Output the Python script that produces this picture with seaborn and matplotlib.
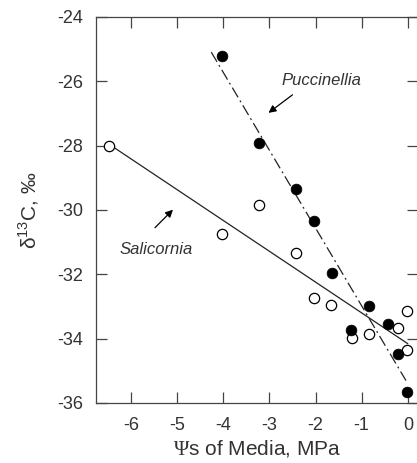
import numpy as np
import pandas as pd
import matplotlib
matplotlib.use("Agg")
import matplotlib.pyplot as plt
import seaborn as sns

# Salicornia (open circles)
sal_psi = [-6.47, -4.02, -3.22, -2.42, -2.04, -1.66, -1.21, -0.84, -0.22, -0.02, -0.02]
sal_d13c = [-28.0, -30.74, -29.84, -31.33, -32.73, -32.94, -33.97, -33.84, -33.66, -33.13, -34.34]

# Puccinellia (filled circles)
puc_psi = [-4.02, -3.22, -2.42, -2.03, -1.64, -0.84, -1.23, -0.43, -0.22, -0.02]
puc_d13c = [-25.21, -27.91, -29.34, -30.34, -31.95, -33.0, -33.72, -33.53, -34.47, -35.65]

# extent of the fitted lines
sal_line_x = [-6.47, 0.0]
puc_line_x = [-4.26, -0.04]

xticks = [-6, -5, -4, -3, -2, -1, 0]
yticks = [-36, -34, -32, -30, -28, -26, -24]

sns.set_style("ticks")
plt.rcParams['font.family'] = ['Liberation Sans', 'DejaVu Sans']
plt.rcParams['mathtext.fontset'] = 'custom'
plt.rcParams['mathtext.rm'] = 'Liberation Serif'
plt.rcParams['mathtext.sf'] = 'Liberation Sans'
txt = '#333333'

fig = plt.figure(figsize=(4.17, 4.63), dpi=100)
ax = fig.add_axes([0.230, 0.1296, 0.772, 0.8337])

# regression lines
sal_fit = np.polyfit(sal_psi, sal_d13c, 1)
puc_fit = np.polyfit(puc_psi, puc_d13c, 1)
sal_lines = pd.DataFrame({'x': sal_line_x, 'y': np.polyval(sal_fit, sal_line_x)})
puc_lines = pd.DataFrame({'x': puc_line_x, 'y': np.polyval(puc_fit, puc_line_x)})
sns.lineplot(data=sal_lines, x='x', y='y', color='#222222', lw=0.9, ax=ax)
sns.lineplot(data=puc_lines, x='x', y='y', color='#222222', lw=0.9, ax=ax)
ax.lines[-1].set_dashes([9, 3, 1.5, 3])

sal_df = pd.DataFrame({'psi': sal_psi, 'd13c': sal_d13c})
puc_df = pd.DataFrame({'psi': puc_psi, 'd13c': puc_d13c})
sns.scatterplot(data=sal_df, x='psi', y='d13c', marker='o', s=55,
                facecolor='white', edgecolor='black', linewidth=0.9, ax=ax, zorder=3)
sns.scatterplot(data=puc_df, x='psi', y='d13c', marker='o', s=60,
                color='black', edgecolor='black', linewidth=0.5, ax=ax, zorder=4)

ax.set_xlim(-6.76, 0.217)
ax.set_ylim(-36, -24)
ax.set_xticks(xticks)
ax.set_yticks(yticks)
ax.set_xticklabels([str(t) for t in xticks])
ax.set_yticklabels([str(t) for t in yticks])
ax.tick_params(direction='in', length=8, width=0.9, top=True, right=True,
               labelsize=13, colors='#444444', labelcolor=txt)
ax.tick_params(axis='x', pad=10)
ax.tick_params(axis='y', pad=9)
for s in ax.spines.values():
    s.set_color('#444444')
    s.set_linewidth(0.9)

ax.set_xlabel(r'$\Psi$s of Media, MPa', fontsize=15, color=txt, labelpad=3)
ax.set_ylabel(r'δ$^{\mathsf{13}}$C, ‰', fontsize=15, color=txt, labelpad=12)

ax.text(-1.87, -25.96, 'Puccinellia', style='italic', fontsize=12, color=txt, ha='center', va='center')
ax.text(-5.46, -31.24, 'Salicornia', style='italic', fontsize=12, color=txt, ha='center', va='center')
ax.annotate('', xy=(-3.02, -26.98), xytext=(-2.50, -26.42),
            arrowprops=dict(arrowstyle='-|>', color='black', lw=0.9, mutation_scale=11,
                            shrinkA=0, shrinkB=0))
ax.annotate('', xy=(-5.09, -29.99), xytext=(-5.48, -30.55),
            arrowprops=dict(arrowstyle='-|>', color='black', lw=0.9, mutation_scale=11,
                            shrinkA=0, shrinkB=0))

fig.savefig('out.png', dpi=100)
